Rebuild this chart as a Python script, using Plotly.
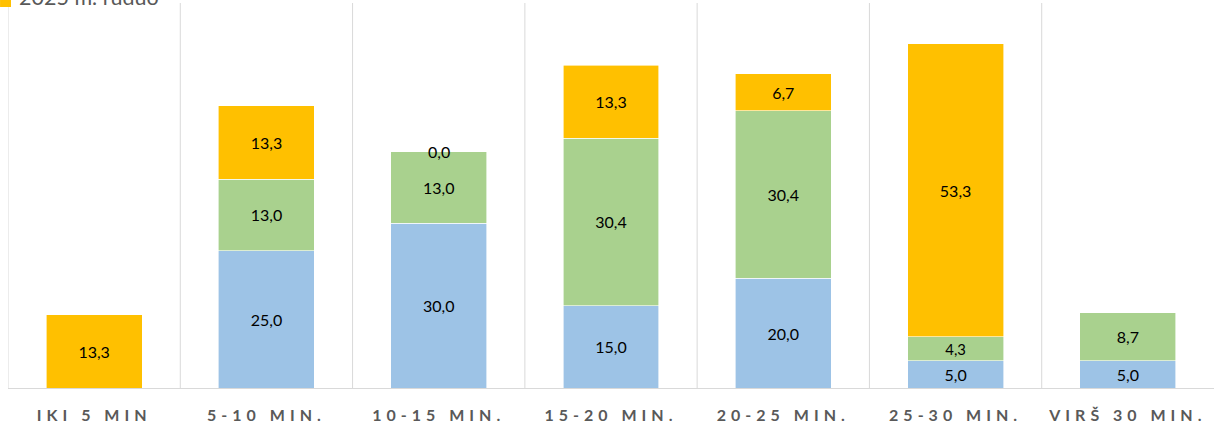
import plotly.graph_objects as go

categories = ["IKI 5 MIN", "5-10 MIN.", "10-15 MIN.", "15-20 MIN.", "20-25 MIN.", "25-30 MIN.", "VIRŠ 30 MIN."]
series_names = ["2024 m. ruduo", "2025 m. pavasaris", "2025 m. ruduo"]
blue_values = [None, 25.0, 30.0, 15.0, 20.0, 5.0, 5.0]
green_values = [None, 13.0, 13.0, 30.4, 30.4, 4.3, 8.7]
yellow_values = [13.3, 13.3, 0.0, 13.3, 6.7, 53.3, None]

colors = ["#9DC3E6", "#A9D18E", "#FFC000"]
xpos = list(range(len(categories)))
label_font = dict(family="Lato, Open Sans, sans-serif", size=16, color="#000000")

fig = go.Figure()
for name, vals, col in zip(series_names, [blue_values, green_values, yellow_values], colors):
    fig.add_trace(go.Bar(
        x=xpos, y=vals, name=name,
        marker=dict(color=col, line=dict(color="white", width=0.6)),
        width=0.557,
        texttemplate=["%{y:.1f}" if (v is not None and v != 0) else "" for v in vals],
        textposition="inside", insidetextanchor="middle",
        textfont=label_font,
        showlegend=False,
    ))

# labels for zero-height segments
for i, v in enumerate(yellow_values):
    if v == 0:
        base = (blue_values[i] or 0) + (green_values[i] or 0)
        fig.add_annotation(x=i, y=base, text=f"{v:.1f}".replace(".", ","), showarrow=False,
                           yanchor="middle", xanchor="center", font=label_font)

# vertical separators between categories
for i in range(len(categories)):
    fig.add_shape(type="line", xref="x", yref="paper", x0=i - 0.5, x1=i - 0.5, y0=0, y1=1,
                  line=dict(color="#D9D9D9", width=1), layer="below")

# partial legend (top edge of the chart is cropped)
fig.add_shape(type="rect", xref="paper", yref="paper",
              x0=-0.0066, x1=0.0025, y0=0.9896, y1=1.02,
              fillcolor="#FFC000", line=dict(width=0))
fig.add_annotation(xref="paper", yref="paper", x=0.0075, y=1.0, xanchor="left", yanchor="bottom",
                   yshift=-9, text=series_names[2], showarrow=False,
                   font=dict(family="Lato, Open Sans, sans-serif", size=21.5, color="#595959"))

fig.update_layout(
    barmode="stack",
    width=1216, height=426, autosize=False,
    margin=dict(l=8, r=2, t=3, b=38),
    paper_bgcolor="white", plot_bgcolor="white",
    separators=",.",
    xaxis=dict(range=[-0.5, 6.5], tickmode="array", tickvals=xpos, ticktext=categories,
               showgrid=False, zeroline=False, showline=True, linecolor="#D9D9D9", linewidth=1,
               ticks="", ticklabelstandoff=13,
               tickfont=dict(family="Lato, Open Sans, sans-serif", size=16, color="#595959", weight="bold")),
    yaxis=dict(range=[0, 70], visible=False, showgrid=False, zeroline=False),
)

post = """
document.body.style.margin = '0';
document.body.style.overflow = 'hidden';
var gd = document.getElementById('{plot_id}');
function ls(){ gd.querySelectorAll('.xtick text').forEach(function(t){ t.setAttribute('letter-spacing','5px'); }); }
ls(); gd.on('plotly_afterplot', ls);
"""
fig.write_html("out.html", post_script=post, config={"displayModeBar": False})
